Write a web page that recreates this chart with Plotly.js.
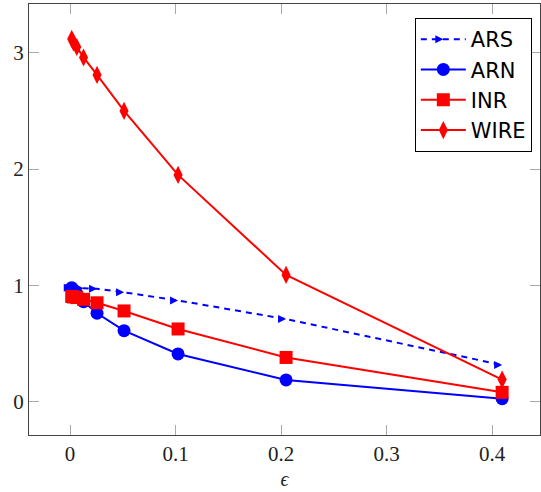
<!DOCTYPE html>
<html>
<head>
<meta charset="utf-8">
<script src="https://cdn.plot.ly/plotly-3.0.1.min.js"></script>
<style>html,body{margin:0;padding:0;background:#fff;}#chart{width:541px;height:492px;}</style>
</head>
<body>
<div id="chart"></div>
<script>
const epsilon = [0.0016, 0.0032, 0.0064, 0.0128, 0.0256, 0.0512, 0.1024, 0.2048, 0.4096];
const ars  = [0.98, 0.98, 0.98, 0.975, 0.97, 0.94, 0.87, 0.71, 0.315];
const arn  = [0.98, 0.96, 0.93, 0.86, 0.76, 0.61, 0.41, 0.187, 0.025];
const inr  = [0.905, 0.90, 0.895, 0.88, 0.85, 0.78, 0.625, 0.38, 0.08];
const wire = [3.12, 3.09, 3.05, 2.96, 2.81, 2.50, 1.95, 1.09, 0.19];
const xTicks = [0, 0.1, 0.2, 0.3, 0.4];
const xTickText = ['0', '0.1', '0.2', '0.3', '0.4'];
const yTicks = [0, 1, 2, 3];
const yTickText = ['0', '1', '2', '3'];

const traces = [
  {x: epsilon, y: ars, name: 'ARS', mode: 'lines+markers',
   line: {color: '#0000ff', width: 2, dash: '6px,5px'},
   marker: {symbol: 'arrow-right', size: 8, color: '#0000ff', line: {width: 0}}},
  {x: epsilon, y: arn, name: 'ARN', mode: 'lines+markers',
   line: {color: '#0000ff', width: 2},
   marker: {symbol: 'circle', size: 13, color: '#0000ff'}},
  {x: epsilon, y: inr, name: 'INR', mode: 'lines+markers',
   line: {color: '#ff0000', width: 2},
   marker: {symbol: 'square', size: 13, color: '#ff0000'}},
  {x: epsilon, y: wire, name: 'WIRE', mode: 'lines+markers',
   line: {color: '#ff0000', width: 2},
   marker: {symbol: 'diamond-tall', size: 13, color: '#ff0000'}}
];

const axisCommon = {
  showgrid: false, zeroline: false, showline: true, linecolor: '#444', linewidth: 1,
  mirror: 'ticks', ticks: 'inside', ticklen: 10, tickcolor: '#aaa', tickwidth: 1,
  tickfont: {family: 'Liberation Serif, serif', size: 21, color: '#222'}
};

const layout = {
  width: 541, height: 492,
  margin: {l: 29, r: 1, t: 4, b: 57},
  paper_bgcolor: '#fff', plot_bgcolor: '#fff',
  showlegend: true,
  xaxis: Object.assign({}, axisCommon, {
    range: [-0.0389, 0.4455], tickmode: 'array', tickvals: xTicks, ticktext: xTickText,
    title: {text: '<i>ϵ</i>', font: {family: 'Liberation Serif, serif', size: 20, color: '#222'}, standoff: 6}
  }),
  yaxis: Object.assign({}, axisCommon, {
    range: [-0.287, 3.42], tickmode: 'array', tickvals: yTicks, ticktext: yTickText
  }),
  legend: {
    x: 0.984, y: 0.9675, xanchor: 'right', yanchor: 'top',
    bgcolor: '#fff', bordercolor: '#000', borderwidth: 1,
    font: {family: 'DejaVu Sans, sans-serif', size: 21, color: '#000'},
    itemwidth: 45, tracegroupgap: 0
  }
};

Plotly.newPlot('chart', traces, layout, {displayModeBar: false, staticPlot: true});
</script>
</body>
</html>
